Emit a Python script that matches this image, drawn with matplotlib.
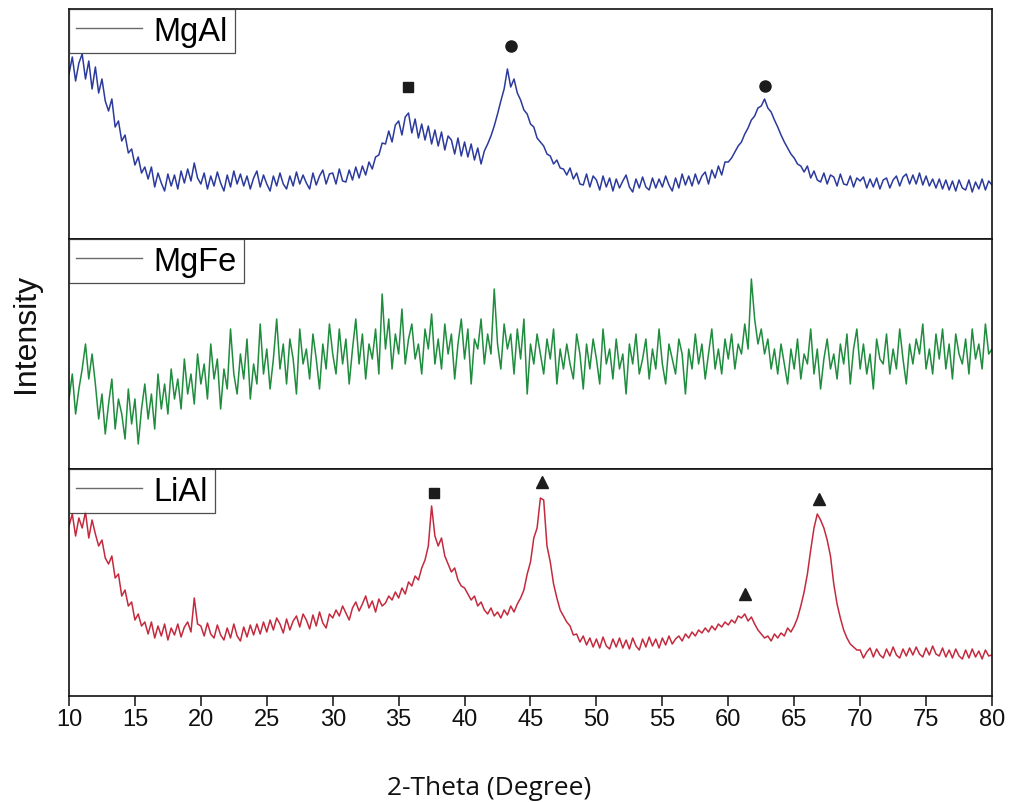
import numpy as np
import matplotlib
matplotlib.use("Agg")
import matplotlib.pyplot as plt
from matplotlib.lines import Line2D

# 2-theta grid (degrees), 0.25 degree steps from 10 to 80
two_theta_start = 10.0
two_theta_step = 0.25

# Diffraction intensities (a.u.)
mgal = [
    165, 182, 158, 176, 185, 160, 178, 150,
    172, 146, 160, 138, 128, 140, 112, 118,
    98, 104, 86, 90, 74, 82, 66, 72,
    60, 72, 52, 66, 56, 48, 65, 53,
    64, 50, 68, 56, 70, 58, 76, 61,
    55, 66, 50, 63, 53, 67, 56, 48,
    64, 52, 68, 55, 65, 53, 63, 50,
    61, 68, 52, 64, 55, 48, 63, 53,
    66, 55, 50, 63, 53, 67, 55, 64,
    56, 50, 66, 54, 63, 69, 55, 65,
    66, 55, 70, 58, 57, 69, 59, 72,
    61, 73, 64, 77, 70, 82, 84, 96,
    95, 108, 97, 114, 118, 104, 122, 126,
    106, 120, 101, 115, 99, 113, 95, 109,
    93, 107, 89, 103, 99, 85, 101, 83,
    97, 82, 95, 79, 91, 75, 88, 95,
    103, 113, 125, 138, 150, 170, 152, 160,
    146, 139, 129, 125, 115, 112, 101, 97,
    93, 85, 83, 75, 79, 71, 70, 64,
    71, 60, 66, 55, 54, 65, 52, 63,
    59, 49, 63, 52, 61, 48, 60, 51,
    58, 64, 52, 47, 60, 51, 62, 52,
    49, 61, 51, 60, 52, 63, 54, 48,
    61, 51, 65, 54, 63, 53, 65, 55,
    63, 67, 55, 69, 61, 73, 64, 77,
    77, 81, 87, 93, 97, 105, 111, 119,
    123, 131, 133, 140, 131, 127, 119, 112,
    104, 97, 91, 85, 81, 75, 73, 67,
    73, 61, 68, 59, 57, 66, 55, 64,
    62, 53, 65, 55, 54, 63, 52, 61,
    58, 62, 51, 60, 52, 61, 50, 59,
    61, 51, 59, 63, 53, 62, 65, 55,
    64, 55, 66, 54, 63, 53, 60, 51,
    60, 50, 59, 49, 58, 48, 59, 51,
    49, 59, 47, 57, 50, 60, 49, 58,
    54,
]

mgfe = [
    70, 95, 55, 80, 100, 125, 90, 115,
    85, 50, 75, 35, 65, 90, 40, 70,
    55, 30, 80, 45, 70, 25, 60, 85,
    50, 75, 40, 95, 60, 85, 55, 100,
    70, 90, 60, 110, 75, 95, 65, 115,
    85, 105, 70, 125, 90, 110, 60, 100,
    80, 140, 95, 75, 115, 90, 130, 70,
    105, 85, 145, 95, 120, 80, 110, 150,
    100, 125, 85, 130, 110, 75, 140, 105,
    120, 90, 135, 110, 80, 125, 100, 145,
    115, 95, 140, 105, 130, 85, 120, 150,
    105, 135, 90, 125, 110, 140, 95, 175,
    120, 150, 100, 135, 115, 160, 105, 130,
    145, 110, 125, 95, 140, 120, 155, 105,
    130, 100, 145, 115, 135, 90, 125, 150,
    110, 140, 85, 130, 120, 150, 105, 135,
    115, 180, 125, 100, 145, 120, 135, 95,
    140, 110, 150, 75, 125, 105, 135, 115,
    95, 130, 110, 140, 85, 120, 100, 125,
    105, 90, 135, 115, 80, 125, 100, 130,
    110, 85, 140, 105, 120, 90, 130, 100,
    115, 75, 125, 105, 135, 95, 110, 130,
    90, 120, 100, 140, 105, 85, 125, 110,
    95, 130, 115, 75, 120, 100, 135, 105,
    125, 90, 115, 140, 100, 120, 95, 130,
    110, 135, 100, 125, 115, 145, 120, 190,
    150, 125, 140, 115, 130, 100, 120, 95,
    125, 105, 85, 120, 100, 130, 90, 115,
    105, 140, 95, 120, 80, 110, 130, 100,
    115, 90, 125, 105, 135, 85, 120, 140,
    100, 125, 95, 115, 80, 130, 110, 105,
    135, 95, 120, 100, 140, 110, 85, 125,
    105, 130, 115, 145, 100, 120, 95, 135,
    110, 140, 100, 125, 90, 135, 115, 105,
    130, 95, 140, 110, 125, 100, 145, 115,
    120,
]

lial = [
    170, 182, 160, 178, 168, 184, 158, 176,
    162, 150, 156, 138, 132, 140, 118, 122,
    100, 106, 90, 94, 76, 82, 70, 74,
    62, 74, 58, 70, 60, 72, 56, 68,
    61, 72, 59, 69, 74, 64, 98, 72,
    70, 60, 73, 62, 58, 71, 61, 56,
    68, 58, 72, 60, 55, 69, 59, 71,
    61, 72, 62, 74, 64, 76, 66, 78,
    72, 63, 77, 66, 75, 80, 69, 82,
    76, 67, 81, 70, 84, 73, 68, 82,
    78, 86, 80, 90, 83, 76, 88, 94,
    85, 92, 100, 88, 95, 84, 97, 90,
    93, 100, 96, 104, 98, 108, 102, 114,
    110, 120, 116, 128, 136, 150, 190, 160,
    150, 158, 140, 132, 124, 128, 116, 110,
    108, 102, 96, 100, 90, 94, 86, 82,
    88, 80, 84, 78, 86, 81, 90, 84,
    92, 98, 106, 122, 134, 158, 168, 198,
    196, 150, 134, 112, 98, 86, 80, 74,
    70, 61, 62, 54, 60, 51, 58, 49,
    57, 48, 59, 50, 47, 57, 49, 58,
    48, 56, 47, 58, 50, 46, 57, 49,
    59, 50, 57, 48, 58, 51, 60, 52,
    57, 60, 55, 62, 58, 64, 60, 66,
    63, 68, 64, 70, 66, 72, 69, 74,
    71, 76, 73, 80, 78, 82, 75, 79,
    72, 66, 62, 58, 60, 55, 62, 58,
    63, 60, 68, 64, 70, 78, 90, 104,
    122, 146, 168, 182, 176, 168, 156, 140,
    112, 92, 78, 66, 58, 52, 49, 46,
    46, 38, 44, 48, 39, 47, 41, 38,
    47, 40, 49, 41, 38, 47, 40, 48,
    41, 49, 42, 39, 48, 41, 50, 42,
    40, 48, 39, 46, 38, 47, 40, 37,
    46, 38, 47, 39, 45, 37, 46, 40,
    41,
]

sample_names = ["MgAl", "MgFe", "LiAl"]
line_colors = ["#2b3a9c", "#1f8c3e", "#c42a3e"]

# Phase markers above the reflections
mgal_peak_x = [35.7, 43.5, 62.8]
mgal_peak_y = [152, 193, 153]
mgal_peak_sym = ["s", "o", "o"]
lial_peak_x = [37.7, 45.9, 61.3, 66.9]
lial_peak_y = [203, 214, 102, 197]
lial_peak_sym = ["s", "^", "^", "^"]

x_ticks = [10, 15, 20, 25, 30, 35, 40, 45, 50, 55, 60, 65, 70, 75, 80]

series = [mgal, mgfe, lial]
two_theta = two_theta_start + two_theta_step * np.arange(len(mgal))

W, H = 1012, 803
fig = plt.figure(figsize=(W / 100, H / 100), dpi=100)
gs = fig.add_gridspec(3, 1, left=69 / W, right=992 / W, top=1 - 10 / H,
                      bottom=1 - 697 / H, hspace=0,
                      height_ratios=[230, 230, 227])
axes = [fig.add_subplot(gs[i]) for i in range(3)]
ylims = [230, 230, 227]

for i, ax in enumerate(axes):
    ax.plot(two_theta, series[i], color=line_colors[i], lw=1.1)
    ax.set_xlim(10, 80)
    ax.set_ylim(0, ylims[i])
    ax.set_yticks([])
    for sp in ax.spines.values():
        sp.set_linewidth(1.2)
        sp.set_color("#111111")
    handle = Line2D([], [], color="#6a6a6a", lw=1.0)
    leg = ax.legend([handle], [sample_names[i]], loc="upper left",
                    bbox_to_anchor=(0, 1), borderaxespad=0,
                    prop={"family": "Liberation Sans", "size": 23.5},
                    frameon=True, fancybox=False, borderpad=0.2,
                    handlelength=2.05, handletextpad=0.35)
    leg.get_frame().set_edgecolor("#222222")
    leg.get_frame().set_linewidth(0.9)
    if i < 2:
        ax.tick_params(axis="x", which="both", bottom=False, labelbottom=False)

for px, py, m in zip(mgal_peak_x, mgal_peak_y, mgal_peak_sym):
    axes[0].plot(px, py, marker=m, color="#1c1c1c", ms=7 if m == "s" else 8,
                 ls="none")
for px, py, m in zip(lial_peak_x, lial_peak_y, lial_peak_sym):
    axes[2].plot(px, py, marker=m, color="#1c1c1c", ms=7 if m == "s" else 8,
                 ls="none")

ax = axes[2]
ax.set_xticks(x_ticks)
ax.set_xticklabels([str(t) for t in x_ticks], family="Liberation Sans",
                   fontsize=17)
ax.tick_params(axis="x", direction="out", length=7.5, width=1.1, pad=1,
               colors="#111111")

fig.text(489 / W, 1 - 789 / H, "2-Theta (Degree)", family="Open Sans",
         fontsize=19, ha="center", va="center", color="#111111")
fig.text(26 / W, 1 - 333 / H, "Intensity", family="Liberation Sans",
         fontsize=23, rotation=90, ha="center", va="center", color="#111111")

fig.savefig("out.png", dpi=100)
